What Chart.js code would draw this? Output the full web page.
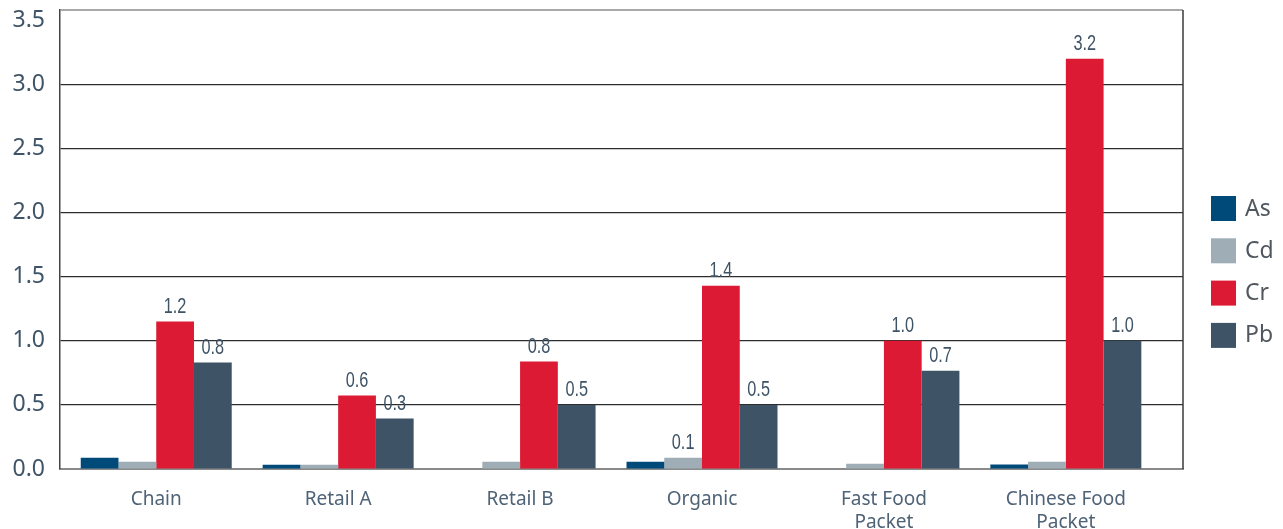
<!DOCTYPE html>
<html>
<head>
<meta charset="utf-8">
<script src="https://cdn.jsdelivr.net/npm/chart.js@4/dist/chart.umd.min.js"></script>
<style>
  html, body { margin: 0; padding: 0; background: #fff; }
  #wrap { width: 1283px; height: 529px; }
</style>
</head>
<body>
<div id="wrap"><canvas id="chart"></canvas></div>
<script>
// categories and series
const categories = ['Chain', 'Retail A', 'Retail B', 'Organic', ['Fast Food', 'Packet'], ['Chinese Food', 'Packet']];
const seriesNames = ['As', 'Cd', 'Cr', 'Pb'];
const seriesColors = ['#004a7a', '#9eadb6', '#dc1a33', '#3e5366'];

const asValues = [0.088, 0.034, 0, 0.057, 0, 0.035];
const cdValues = [0.057, 0.034, 0.057, 0.088, 0.04, 0.057];
const crValues = [1.15, 0.573, 0.838, 1.43, 1.0, 3.2];
const pbValues = [0.83, 0.393, 0.5, 0.5, 0.766, 1.0];

// value labels printed above bars (as shown in the picture)
const asLabels = [null, null, null, null, null, null];
const cdLabels = [null, null, null, '0.1', null, null];
const crLabels = ['1.2', '0.6', '0.8', '1.4', '1.0', '3.2'];
const pbLabels = ['0.8', '0.3', '0.5', '0.5', '0.7', '1.0'];

const yTicks = [0, 0.5, 1.0, 1.5, 2.0, 2.5, 3.0, 3.5];

const allValues = [asValues, cdValues, crValues, pbValues];
const allLabels = [asLabels, cdLabels, crLabels, pbLabels];

const datasets = seriesNames.map((name, s) => ({
    label: name,
    data: allValues[s].map((v, i) => ({ x: i, y: v })),
    backgroundColor: seriesColors[s],
    borderWidth: 0,
    valueLabels: allLabels[s],
    categoryPercentage: 0.83,
    barPercentage: 1.0
}));

// labels above bars
const valueLabelPlugin = {
    id: 'valueLabels',
    afterDatasetsDraw(chart) {
        const ctx = chart.ctx;
        chart.data.datasets.forEach((ds, di) => {
            const meta = chart.getDatasetMeta(di);
            meta.data.forEach((bar, j) => {
                const txt = ds.valueLabels[j];
                if (!txt) return;
                ctx.save();
                ctx.translate(bar.x, bar.y - 9);
                ctx.scale(0.74, 1);
                ctx.font = '22px "Liberation Sans Narrow", "Liberation Sans", sans-serif';
                ctx.fillStyle = '#3e5366';
                ctx.textAlign = 'center';
                ctx.textBaseline = 'alphabetic';
                ctx.fillText(txt, 0, 0);
                ctx.restore();
            });
        });
    }
};

// top and right edges of the plot box
const framePlugin = {
    id: 'frame',
    beforeDatasetsDraw(chart) {
        const { ctx, chartArea: a } = chart;
        ctx.save();
        ctx.lineWidth = 1.5;
        ctx.strokeStyle = '#8c8c8c';
        ctx.beginPath();
        ctx.moveTo(a.left, a.top);
        ctx.lineTo(a.right, a.top);
        ctx.stroke();
        ctx.strokeStyle = '#3a3a3a';
        ctx.beginPath();
        ctx.moveTo(a.right, a.top);
        ctx.lineTo(a.right, a.bottom);
        ctx.stroke();
        ctx.restore();
    }
};

// legend on the right
const legendPlugin = {
    id: 'sideLegend',
    afterDraw(chart) {
        const ctx = chart.ctx;
        const x = chart.chartArea.right + 28;
        const top = 196;
        ctx.save();
        ctx.font = '23px "Noto Sans", sans-serif';
        ctx.textBaseline = 'middle';
        ctx.textAlign = 'left';
        chart.data.datasets.forEach((ds, i) => {
            const y = top + i * 42.3;
            ctx.fillStyle = ds.backgroundColor;
            ctx.fillRect(x, y, 25, 25);
            ctx.fillStyle = '#50575e';
            ctx.fillText(ds.label, x + 34, y + 13);
        });
        ctx.restore();
    }
};

new Chart(document.getElementById('chart'), {
    type: 'bar',
    data: { datasets: datasets },
    options: {
        responsive: true,
        maintainAspectRatio: false,
        animation: false,
        layout: { autoPadding: false, padding: { top: 10, right: 100, left: 0, bottom: 0 } },
        plugins: { legend: { display: false }, tooltip: { enabled: false } },
        scales: {
            x: {
                type: 'linear',
                offset: false,
                min: -0.529,
                max: 5.644,
                grid: { display: false, offset: false },
                border: { display: true, color: '#8a8a8a', width: 2 },
                afterBuildTicks: (axis) => { axis.ticks = categories.map((c, i) => ({ value: i })); },
                afterFit: (axis) => { axis.height = 60; axis.paddingLeft = 0; axis.paddingRight = 0; },
                ticks: {
                    autoSkip: false,
                    maxRotation: 0,
                    padding: 11,
                    color: '#4f6377',
                    font: { family: '"Noto Sans", sans-serif', size: 19, lineHeight: 1.2 },
                    callback: (v) => categories[v]
                }
            },
            y: {
                min: 0,
                max: 3.58,
                afterBuildTicks: (axis) => { axis.ticks = yTicks.map(v => ({ value: v })); },
                afterFit: (axis) => { axis.width = 60; axis.paddingTop = 0; axis.paddingBottom = 0; },
                grid: {
                    drawTicks: false,
                    lineWidth: 1.2,
                    color: (c) => (c.tick && c.tick.value === 3.5) ? 'rgba(0,0,0,0)' : '#2e2e2e'
                },
                border: { display: true, color: '#444', width: 1.5 },
                ticks: {
                    padding: 15,
                    color: '#3f5468',
                    font: { family: '"Noto Sans", sans-serif', size: 23 },
                    callback: (v) => Number(v).toFixed(1)
                }
            }
        }
    },
    plugins: [valueLabelPlugin, framePlugin, legendPlugin]
});
</script>
</body>
</html>
